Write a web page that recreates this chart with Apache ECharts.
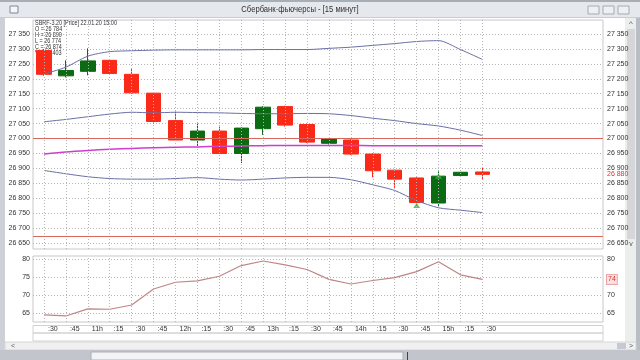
<!DOCTYPE html>
<html>
<head>
<meta charset="utf-8">
<script src="https://cdn.jsdelivr.net/npm/echarts@6/dist/echarts.min.js"></script>
<style>
html,body{margin:0;padding:0;background:#ffffff;}
#c{width:640px;height:360px;}
</style>
</head>
<body>
<div id="c"></div>
<script>
// ---------- data ----------
const windowTitle = 'Сбербанк-фьючерсы - [15 минут]';
const infoLines = ['SBRF-3.20 [Price] 22.01.20 15:00', 'O = 26 784', 'H = 26 890', 'L = 26 774', 'C = 26 874', 'V = 10 403'];

const times = ['10:30','10:45','11:00','11:15','11:30','11:45','12:00','12:15','12:30','12:45','13:00',
               '13:15','13:30','13:45','14:00','14:15','14:30','14:45','15:00','15:15','15:30'];
const timeLabels = [':30',':45','11h',':15',':30',':45','12h',':15',':30',':45','13h',
                    ':15',':30',':45','14h',':15',':30',':45','15h',':15',':30'];
const emptySlots = ['s1','s2','s3','s4','s5'];

const opens  = [27295,27210,27225,27262,27215,27152,27060,26995,27025,26950,27033,27107,27047,26984,26995,26948,26894,26868,26784,26876,26888];
const closes = [27215,27228,27260,27218,27153,27057,26995,27025,26950,27035,27105,27045,26988,27000,26948,26892,26864,26786,26874,26887,26880];
const lows   = [27210,27205,27212,27215,27150,27050,26992,26970,26948,26918,27012,27040,26985,26980,26945,26870,26835,26776,26774,26875,26862];
const highs  = [27300,27262,27302,27265,27235,27155,27090,27050,27040,27037,27108,27110,27050,27002,26998,26950,26896,26870,26890,26888,26905];

const bbUpper  = [27216,27239,27276,27291,27294,27296,27297,27297,27297,27297,27298,27298,27298,27302,27306,27312,27318,27325,27328,27298,27265];
const bbMiddle = [27056,27064,27073,27082,27088,27086,27088,27087,27086,27084,27083,27083,27084,27083,27077,27068,27060,27050,27042,27028,27010];
const bbLower  = [26893,26882,26872,26866,26864,26864,26866,26869,26864,26861,26864,26868,26870,26870,26862,26845,26826,26792,26768,26760,26752];
const maLine   = [26948,26955,26960,26964,26967,26969,26971,26972,26974,26975,26976,26977,26977,26977,26977,26976,26976,26976,26976,26976,26976];

const rsiValues = [64.4,64.1,66.1,66.0,67.2,71.7,73.6,74.0,75.3,78.3,79.6,78.5,77.2,74.4,73.1,74.1,74.9,76.6,79.4,75.7,74.4];

const priceTicks = [26650,26700,26750,26800,26850,26900,26950,27000,27050,27100,27150,27200,27250,27300,27350];
const rsiTicks = [65,70,75,80];
const levelLines = [27000, 26672];

// ---------- helpers ----------
const FONT = '"Liberation Sans", Arial, sans-serif';
const fmt = v => String(v).replace(/\B(?=(\d{3})+(?!\d))/g, ' ');
const cats = times.concat(emptySlots);
const gridColor = '#b5b5b5';
const dots = [1, 2];
const lastIdx = times.length - 1;
const clear = 'rgba(0,0,0,0)';

const labelMap = {};
times.forEach((t, i) => { labelMap[t] = timeLabels[i]; });

function vGridLines() {
  return times.map(t => ({ xAxis: t }));
}

const chart = echarts.init(document.getElementById('c'), null, { renderer: 'canvas' });

const axisLabelBase = { fontSize: 7, color: '#333', fontFamily: FONT };

const option = {
  animation: false,
  backgroundColor: '#ffffff',
  grid: [
    { left: 33, top: 20, width: 570, height: 229, show: true, borderColor: '#c8c8c8', borderWidth: 1, backgroundColor: 'transparent' },
    { left: 33, top: 256, width: 570, height: 66, show: true, borderColor: '#c8c8c8', borderWidth: 1, backgroundColor: 'transparent' }
  ],
  xAxis: [
    { gridIndex: 0, type: 'category', data: cats, boundaryGap: true,
      axisLine: { show: false }, axisTick: { show: false }, axisLabel: { show: false }, splitLine: { show: false } },
    { gridIndex: 1, type: 'category', data: cats, boundaryGap: true,
      axisLine: { show: false }, axisTick: { show: false }, splitLine: { show: false },
      axisLabel: Object.assign({}, axisLabelBase, { interval: 0, align: 'left', margin: 4, padding: [0, 0, 0, 4],
        formatter: v => labelMap[v] || '' }) }
  ],
  yAxis: [
    { gridIndex: 0, type: 'value', min: 26630, max: 27397, position: 'left',
      axisLine: { show: false }, axisTick: { show: false, customValues: priceTicks },
      axisLabel: Object.assign({}, axisLabelBase, { customValues: priceTicks, formatter: fmt, margin: 3 }),
      splitLine: { show: true, lineStyle: { color: gridColor, type: dots, width: 1 } } },
    { gridIndex: 0, type: 'value', min: 26630, max: 27397, position: 'right',
      axisLine: { show: false }, axisTick: { show: false, customValues: priceTicks },
      axisLabel: Object.assign({}, axisLabelBase, { customValues: priceTicks, formatter: fmt, margin: 4 }),
      splitLine: { show: false } },
    { gridIndex: 1, type: 'value', min: 62.4, max: 81, position: 'left',
      axisLine: { show: false }, axisTick: { show: false, customValues: rsiTicks },
      axisLabel: Object.assign({}, axisLabelBase, { customValues: rsiTicks, margin: 3 }),
      splitLine: { show: true, lineStyle: { color: gridColor, type: dots, width: 1 } } },
    { gridIndex: 1, type: 'value', min: 62.4, max: 81, position: 'right',
      axisLine: { show: false }, axisTick: { show: false, customValues: rsiTicks },
      axisLabel: Object.assign({}, axisLabelBase, { customValues: rsiTicks, margin: 4 }),
      splitLine: { show: false } }
  ],
  series: [
    // background grid + level lines (main panel)
    { type: 'line', xAxisIndex: 0, yAxisIndex: 0, data: [], z: 1, silent: true,
      markLine: { silent: true, symbol: 'none', animation: false, label: { show: false },
        lineStyle: { color: gridColor, type: dots, width: 1 },
        data: vGridLines().concat(levelLines.map(v => ({ yAxis: v, lineStyle: { color: '#d9675e', type: 'solid', width: 1 } })))
      } },
    { type: 'candlestick', xAxisIndex: 0, yAxisIndex: 0, z: 2, barWidth: 15,
      data: times.map((t, i) => [opens[i], closes[i], lows[i], highs[i]]),
      itemStyle: { color: '#0b6b12', color0: '#fa2a18', borderColor: '#0b6b12', borderColor0: '#fa2a18', borderWidth: 1 },
      markLine: { silent: true, symbol: 'none', animation: false,
        lineStyle: { color: clear, width: 1 },
        label: { show: true, position: 'end', distance: 4, formatter: () => fmt(closes[lastIdx]), color: '#e0302a', fontSize: 7, fontFamily: FONT },
        data: [{ yAxis: closes[lastIdx] }] } },
    { type: 'line', name: 'BB upper', xAxisIndex: 0, yAxisIndex: 0, z: 3, data: bbUpper, symbol: 'none', smooth: 0.25,
      lineStyle: { color: '#6a6fa6', width: 1 } },
    { type: 'line', name: 'BB middle', xAxisIndex: 0, yAxisIndex: 0, z: 3, data: bbMiddle, symbol: 'none', smooth: 0.25,
      lineStyle: { color: '#6a6fa6', width: 1 } },
    { type: 'line', name: 'BB lower', xAxisIndex: 0, yAxisIndex: 0, z: 3, data: bbLower, symbol: 'none', smooth: 0.25,
      lineStyle: { color: '#6a6fa6', width: 1 } },
    { type: 'line', name: 'MA', xAxisIndex: 0, yAxisIndex: 0, z: 3, data: maLine, symbol: 'none', smooth: 0.25,
      lineStyle: { color: '#cf3fcf', width: 1.5 } },
    { type: 'scatter', xAxisIndex: 0, yAxisIndex: 0, z: 4, symbol: 'triangle', symbolSize: [7, 5],
      data: [[times[17], lows[17]], [times[18], closes[18]]], itemStyle: { color: '#36b836' } },
    // lower panel
    { type: 'line', xAxisIndex: 1, yAxisIndex: 2, data: [], z: 1, silent: true,
      markLine: { silent: true, symbol: 'none', animation: false, label: { show: false },
        lineStyle: { color: gridColor, type: dots, width: 1 },
        data: vGridLines() } },
    { type: 'line', name: 'RSI', xAxisIndex: 1, yAxisIndex: 2, z: 3, data: rsiValues, symbol: 'none',
      lineStyle: { color: '#c08585', width: 1.2 },
      markLine: { silent: true, symbol: 'none', animation: false,
        lineStyle: { color: clear, width: 1 },
        label: { show: true, position: 'end', distance: 4, formatter: () => String(Math.round(rsiValues[lastIdx])),
          color: '#d8302a', fontSize: 7, fontFamily: FONT, backgroundColor: '#fbe2e2', borderColor: '#e9a5a5', borderWidth: 1, padding: [1, 1] },
        data: [{ yAxis: rsiValues[lastIdx] }] } }
  ],
  graphic: [
    // title bar
    { type: 'rect', shape: { x: 0, y: 0, width: 640, height: 18 }, style: { fill: '#e5e8ed' } },
    { type: 'rect', shape: { x: 0, y: 0, width: 640, height: 2 }, style: { fill: '#a8aeb6' } },
    { type: 'rect', shape: { x: 0, y: 17, width: 640, height: 1 }, style: { fill: '#c9cdd3' } },
    { type: 'rect', shape: { x: 10, y: 6, width: 8, height: 7 }, style: { fill: '#f4f6f8', stroke: '#7d8896', lineWidth: 1 } },
    { type: 'text', x: 300, y: 10, scaleX: 0.85,
      style: { text: windowTitle, font: '9px "Liberation Sans", Arial, sans-serif', fill: '#303030', align: 'center', verticalAlign: 'middle' } },
    { type: 'rect', shape: { x: 588, y: 6, width: 11, height: 8 }, style: { fill: '#eef0f3', stroke: '#a5abb3' } },
    { type: 'rect', shape: { x: 603, y: 6, width: 11, height: 8 }, style: { fill: '#eef0f3', stroke: '#a5abb3' } },
    { type: 'rect', shape: { x: 618, y: 6, width: 11, height: 8 }, style: { fill: '#eef0f3', stroke: '#a5abb3' } },
    // left frame strip
    { type: 'rect', shape: { x: 0, y: 18, width: 5, height: 332 }, style: { fill: '#cdd1d7' } },
    // right scrollbar & frame
    { type: 'rect', shape: { x: 625, y: 18, width: 15, height: 332 }, style: { fill: '#eceded' } },
    { type: 'rect', shape: { x: 627, y: 29, width: 8, height: 210 }, style: { fill: '#d6d6d8' } },
    { type: 'text', x: 631, y: 24, style: { text: '^', font: '8px "Liberation Sans"', fill: '#555', align: 'center', verticalAlign: 'middle' } },
    { type: 'text', x: 631, y: 244, style: { text: 'v', font: '7px "Liberation Sans"', fill: '#555', align: 'center', verticalAlign: 'middle' } },
    { type: 'rect', shape: { x: 636, y: 18, width: 4, height: 332 }, style: { fill: '#b9bec5' } },
    // x-axis band
    { type: 'rect', shape: { x: 33, y: 325.5, width: 570, height: 7.5 }, style: { fill: 'none', stroke: '#d2d2d2', lineWidth: 1 } },
    { type: 'rect', shape: { x: 33, y: 333, width: 570, height: 8 }, style: { fill: 'none', stroke: '#d2d2d2', lineWidth: 1 } },
    // horizontal scrollbar
    { type: 'rect', shape: { x: 5, y: 342, width: 631, height: 8 }, style: { fill: '#f0f0f0', stroke: '#d6d6d6' } },
    { type: 'text', x: 13, y: 346, style: { text: '<', font: '7px "Liberation Sans"', fill: '#555', align: 'center', verticalAlign: 'middle' } },
    { type: 'text', x: 631, y: 346, style: { text: '>', font: '7px "Liberation Sans"', fill: '#555', align: 'center', verticalAlign: 'middle' } },
    { type: 'rect', shape: { x: 617, y: 343, width: 9, height: 6 }, style: { fill: '#c8c8d2' } },
    // bottom strip
    { type: 'rect', shape: { x: 0, y: 350, width: 640, height: 10 }, style: { fill: '#c2c6cc' } },
    { type: 'rect', shape: { x: 91, y: 352, width: 312, height: 8 }, style: { fill: '#f3f3f3', stroke: '#aab0b8' } },
    { type: 'rect', shape: { x: 407, y: 352, width: 1, height: 8 }, style: { fill: '#444' } },
    // info text (behind candles)
    ...infoLines.map((s, i) => ({ type: 'text', x: 35, y: 23.5 + i * 6, scaleX: 0.78, z: 0,
      style: { text: s, font: '7px "Liberation Sans", Arial, sans-serif', fill: '#333', align: 'left', verticalAlign: 'middle' } }))
  ]
};

chart.setOption(option);
</script>
</body>
</html>
